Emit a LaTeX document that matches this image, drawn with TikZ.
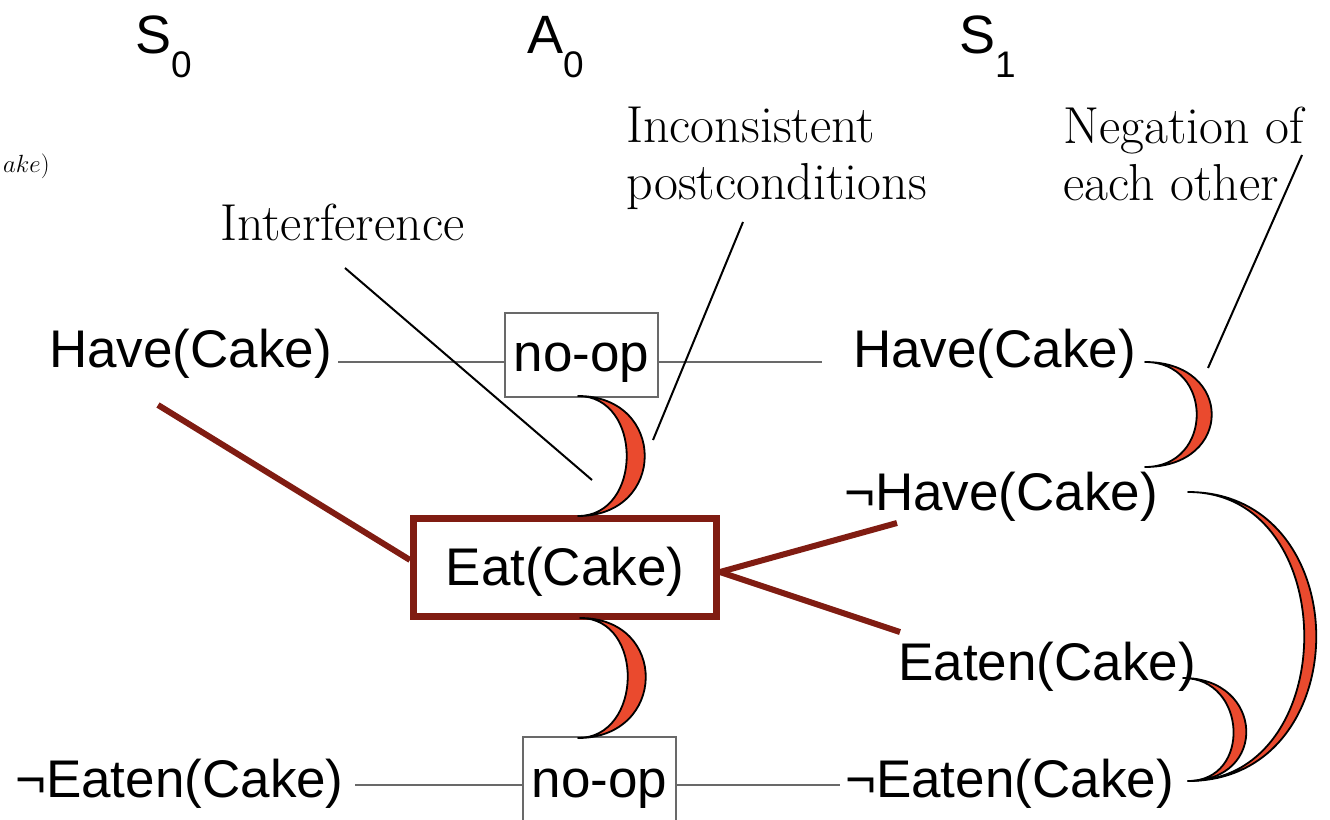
\documentclass[tikz,border=0pt]{standalone}
\usepackage{fontspec}
\newfontfamily\arialfont{Liberation Sans}
\usetikzlibrary{calc}
\definecolor{mutexred}{RGB}{234,74,46}
\definecolor{darkred}{RGB}{128,28,18}
\definecolor{linegray}{RGB}{105,105,105}
\newcommand\mutexarc[4]{%
  \filldraw[mutex] (#1) .. controls ($(#1)+(#3,0)$) and ($(#2)+(#3,0)$) .. (#2)
    .. controls ($(#2)+(#4,0)$) and ($(#1)+(#4,0)$) .. (#1) -- cycle;}
\begin{document}
\begin{tikzpicture}[x=1pt,y=-1pt,
  lit/.style={font=\arialfont\fontsize{53}{60}\selectfont, inner sep=0pt, anchor=base west},
  level/.style={font=\arialfont\fontsize{54}{60}\selectfont, inner sep=0pt, anchor=base west},
  note/.style={font=\fontsize{52}{57}\selectfont, inner sep=0pt, align=left},
  opbox/.style={draw=linegray, line width=2.4pt, fill=white, minimum width=153pt, minimum height=84pt,
    inner sep=0pt, font=\arialfont\fontsize{53}{60}\selectfont},
  actbox/.style={draw=darkred, line width=7pt, fill=white, minimum width=303pt, minimum height=98pt,
    inner sep=0pt, font=\arialfont\fontsize{53}{60}\selectfont},
  persist/.style={draw=linegray, line width=2.6pt},
  actlink/.style={draw=darkred, line width=6pt},
  pointer/.style={draw=black, line width=2pt},
  mutex/.style={fill=mutexred, draw=black, line width=1.8pt, line join=round},
]
\useasboundingbox (0,0) rectangle (1330,819);

% level headers
\node[level] (s0) at (135,53) {S\raisebox{-24pt}{\fontsize{37}{40}\selectfont 0}};
\node[level] (a0) at (527,53) {A\raisebox{-24pt}{\fontsize{37}{40}\selectfont 0}};
\node[level] (s1) at (959,53) {S\raisebox{-24pt}{\fontsize{37}{40}\selectfont 1}};

% fragment at left edge
\node[inner sep=0pt, anchor=base west, font=\fontsize{32}{36}\selectfont] (frag) at (3,172) {$ake)$};

% annotations
\node[note, anchor=north west] (incons) at (626,107) {Inconsistent\\postconditions};
\node[note, anchor=north west] (negation) at (1063,107) {Negation of\\each other};
\node[note, anchor=base west] (interf) at (220,240) {Interference};

% literals
\node[lit] (h0) at (49,367) {Have(Cake)};
\node[lit] (h1) at (853,367) {Have(Cake)};
\node[lit] (nh1) at (844,510) {¬Have(Cake)};
\node[lit] (e1) at (898,680) {Eaten(Cake)};
\node[lit] (ne0) at (15,797) {¬Eaten(Cake)};
\node[lit] (ne1) at (845,797) {¬Eaten(Cake)};

% coordinates for free ends
\coordinate (h0r) at (338,362);
\coordinate (h1l) at (822,362);
\coordinate (ne0r) at (355,785);
\coordinate (ne1l) at (840,785);
\coordinate (h0link) at (158,405);
\coordinate (nh1link) at (897,523);
\coordinate (e1link) at (900,632);

% persistence lines (drawn first, boxes on top)
\draw[persist] (h0r) -- (h1l);
\draw[persist] (ne0r) -- (ne1l);

% actions
\node[opbox, text height=37pt, text depth=5pt] (noop1) at (581.5,355) {no-op};
\node[opbox, text height=39pt, text depth=3pt] (noop2) at (599.5,779) {no-op};
\node[actbox, text height=40pt, text depth=5pt] (eat) at (565,567.5) {Eat(Cake)};

% action links
\draw[actlink] (h0link) -- (eat.west |- 0,560);
\draw[actlink] (eat.east |- 0,572) -- (nh1link);
\draw[actlink] (eat.east |- 0,572) -- (e1link);

% mutex arcs
\coordinate (m1a) at (578,396);
\coordinate (m1b) at (578,516);
\coordinate (m2a) at (580,618);
\coordinate (m2b) at (578,738);
\coordinate (m3a) at (1145,362);
\coordinate (m3b) at (1145,467);
\coordinate (m4a) at (1188,492);
\coordinate (m4b) at (1188,781);
\coordinate (m5a) at (1183,678);
\coordinate (m5b) at (1188,781);
\mutexarc{m1a}{m1b}{89}{65}
\mutexarc{m2a}{m2b}{89}{65}
\mutexarc{m3a}{m3b}{89}{69}
\mutexarc{m4a}{m4b}{171}{155}
\mutexarc{m5a}{m5b}{81}{64}

% pointers
\coordinate (pi) at (592,480);
\coordinate (pc) at (653,440);
\coordinate (pn) at (1208,368);
\coordinate (pis) at (345,268);
\coordinate (pcs) at (743,222);
\coordinate (pns) at (1302,155);
\draw[pointer] (pis) -- (pi);
\draw[pointer] (pcs) -- (pc);
\draw[pointer] (pns) -- (pn);
\end{tikzpicture}
\end{document}
